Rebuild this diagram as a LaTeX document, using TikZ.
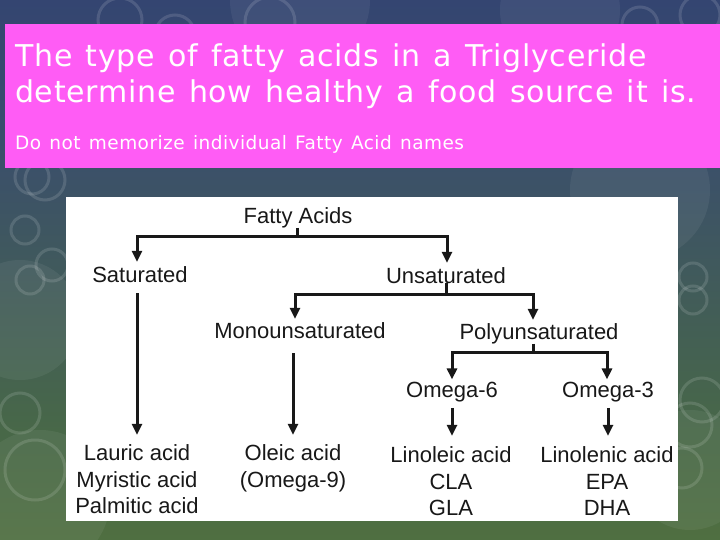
\documentclass[tikz,border=0pt]{standalone}
\usepackage{fontspec}
\setmainfont{Liberation Sans}
\newfontfamily\titlefont[LetterSpace=2.5,WordSpace=1.3]{DejaVu Sans}
\usetikzlibrary{arrows.meta}
\definecolor{bgtop}{RGB}{40,52,122}
\definecolor{bgmid}{RGB}{58,78,108}
\definecolor{bgmid2}{RGB}{72,104,72}
\definecolor{bgbot}{RGB}{98,128,46}
\definecolor{pinkbox}{RGB}{255,92,245}
\definecolor{ink}{RGB}{24,24,24}
\pgfdeclareverticalshading{bgshade}{100bp}{color(0bp)=(bgbot); color(35bp)=(bgmid2); color(62bp)=(bgmid); color(100bp)=(bgtop)}
\tikzset{
  ring/.style={draw=white, draw opacity=0.13, line width=3pt},
  blob/.style={fill=white, fill opacity=0.06},
  lbl/.style={inner sep=0pt, anchor=base, text=ink, font=\fontsize{22}{26}\selectfont},
  ttl/.style={inner sep=0pt, anchor=base west, text=white},
  bar/.style={draw=ink, line width=3pt, line join=miter},
  arr/.style={bar, -{Triangle[width=10pt,length=11pt]}},
}
\begin{document}
\begin{tikzpicture}[x=1pt,y=-1pt]
\useasboundingbox (0,0) rectangle (720,540);
% background
\shade[shading=bgshade] (0,0) rectangle (720,540);
\fill[blob] (300,0) circle (70);
\fill[blob] (560,10) circle (60);
\fill[blob] (640,190) circle (70);
\fill[blob] (20,320) circle (60);
\fill[blob] (40,500) circle (70);
\fill[blob] (690,470) circle (60);
\draw[ring] (120,20) circle (22);
\draw[ring] (175,35) circle (20);
\draw[ring] (270,22) circle (25);
\draw[ring] (640,25) circle (18);
\draw[ring] (700,15) circle (20);
\draw[ring] (32,177) circle (17);
\draw[ring] (45,180) circle (20);
\draw[ring] (25,230) circle (14);
\draw[ring] (52,265) circle (16);
\draw[ring] (30,280) circle (14);
\draw[ring] (20,413) circle (20);
\draw[ring] (35,470) circle (30);
\draw[ring] (693,277) circle (14);
\draw[ring] (693,300) circle (14);
\draw[ring] (702,400) circle (22);
\draw[ring] (690,425) circle (22);
\draw[ring] (682,468) circle (20);
% pink title box
\fill[pinkbox] (5,24) rectangle (720,168);
\node[ttl, font=\titlefont\fontsize{30}{35}\selectfont] (t1) at (15,67) {The type of fatty acids in a Triglyceride};
\node[ttl, font=\titlefont\fontsize{30}{35}\selectfont] (t2) at (15,103) {determine how healthy a food source it is.};
\node[ttl, font=\titlefont\fontsize{18.5}{22}\selectfont] (t3) at (15,150) {Do not memorize individual Fatty Acid names};
% white diagram panel
\fill[white] (66,197) rectangle (678,521);
% labels
\node[lbl] (fa) at (298,223) {Fatty Acids};
\node[lbl] (sat) at (140,282) {Saturated};
\node[lbl] (unsat) at (446,283) {Unsaturated};
\node[lbl] (mono) at (300,338) {Monounsaturated};
\node[lbl] (poly) at (539,339) {Polyunsaturated};
\node[lbl] (o6) at (452,397) {Omega-6};
\node[lbl] (o3) at (608,397) {Omega-3};
\node[lbl] (lau) at (137,460) {Lauric acid};
\node[lbl] (myr) at (137,487) {Myristic acid};
\node[lbl] (pal) at (137,513) {Palmitic acid};
\node[lbl] (ole) at (293,460) {Oleic acid};
\node[lbl] (om9) at (293,487) {(Omega-9)};
\node[lbl] (lin6) at (451,462) {Linoleic acid};
\node[lbl] (cla) at (451,489) {CLA};
\node[lbl] (gla) at (451,515) {GLA};
\node[lbl] (lin3) at (607,462) {Linolenic acid};
\node[lbl] (epa) at (607,489) {EPA};
\node[lbl] (dha) at (607,515) {DHA};
% junction levels
\coordinate (j1) at (0,236);
\coordinate (j2) at (0,294);
\coordinate (j3) at (0,352);
% connectors
\draw[arr, shorten >=4pt] ([xshift=-1pt]fa.south) -- ([xshift=-1pt]fa.south |- j1) -| ([xshift=-3pt]sat.north);
\draw[arr, shorten >=4pt] ([xshift=-1pt]fa.south) -- ([xshift=-1pt]fa.south |- j1) -| ([xshift=1pt]unsat.north);
\draw[arr, shorten >=3pt] (unsat.south) -- (unsat.south |- j2) -| ([xshift=-5pt]mono.north);
\draw[arr, shorten >=3pt] (unsat.south) -- (unsat.south |- j2) -| ([xshift=-6pt]poly.north);
\draw[arr, shorten >=2pt] ([xshift=-6pt]poly.south) -- ([xshift=-6pt]poly.south |- j3) -| (o6.north);
\draw[arr, shorten >=2pt] ([xshift=-6pt]poly.south) -- ([xshift=-6pt]poly.south |- j3) -| ([xshift=-1pt]o3.north);
\draw[arr, shorten <=11pt, shorten >=9pt] ([xshift=-3pt]sat.south) -- (lau.north);
\draw[arr, shorten <=15pt, shorten >=9pt] ([xshift=-7pt]mono.south) -- (ole.north);
\draw[arr, shorten <=6pt, shorten >=10pt] (o6.south) -- ([xshift=1pt]lin6.north);
\draw[arr, shorten <=6pt, shorten >=10pt] (o3.south) -- ([xshift=1pt]lin3.north);
\end{tikzpicture}
\end{document}
